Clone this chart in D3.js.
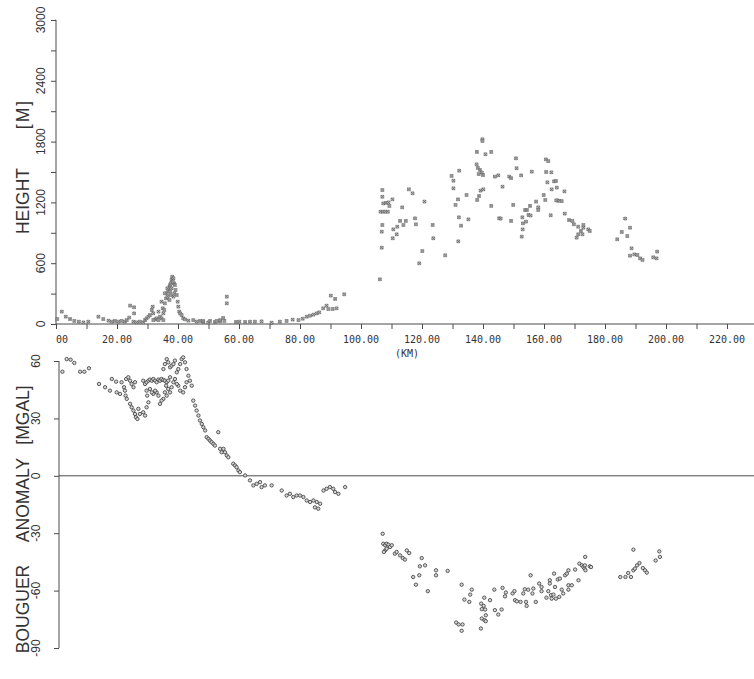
<!DOCTYPE html>
<html>
<head>
<meta charset="utf-8">
<script src="https://cdn.jsdelivr.net/npm/d3@7"></script>
<style>
  html, body { margin: 0; padding: 0; background: #fff; }
  svg { display: block; }
</style>
</head>
<body>
<svg id="chart" width="754" height="679"></svg>
<script>
// ---------- DATA ----------
// Topography profile: distance (km) and height (m)
const heightKm = [
  0.4,1.9,3.2,4.6,6.0,7.5,9.0,10.6,13.9,15.5,17.2,18.3,19.3,20.4,21.5,22.6,23.2,24.0,24.3,25.6,25.6,25.4,26.4,27.5,28.6,
  29.2,29.7,30.3,30.8,31.4,31.7,31.9,32.5,33.0,33.6,34.1,34.6,35.0,35.2,35.5,35.7,36.1,36.3,36.6,36.8,37.2,37.4,37.7,37.9,38.1,
  38.5,38.7,39.0,39.2,38.5,38.8,39.6,39.9,40.1,40.4,40.7,41.2,41.7,42.3,43.4,45.0,46.1,47.2,48.3,49.9,52.1,53.8,55.2,
  35.7,36.5,37.4,37.9,38.3,37.6,37.2,34.6,35.2,33.6,31.9,
  48.2,50.5,52.7,53.8,54.8,56.0,56.0,59.0,60.1,62.0,63.6,65.2,67.4,70.7,73.4,75.6,77.6,79.5,80.9,82.2,83.3,84.4,85.5,86.3,
  87.6,88.7,89.3,90.7,92.0,90.1,91.5,94.5,
  106.2,106.8,106.8,107.0,106.4,107.2,108.0,108.8,107.3,108.2,109.0,107.0,107.0,109.3,110.3,113.5,110.4,110.6,111.9,111.7,112.8,
  113.9,114.7,115.7,116.9,117.7,118.0,120.1,119.1,120.8,123.5,123.7,127.6,129.7,130.3,132.2,130.3,131.0,131.8,132.1,132.8,
  131.9,134.6,135.2,137.9,138.3,139.0,139.6,138.6,139.8,139.8,140.0,138.0,140.8,142.7,139.2,140.1,138.7,138.1,142.7,143.9,
  145.0,146.4,145.3,145.8,148.6,149.2,149.9,149.2,150.8,151.0,152.5,156.0,152.7,153.0,153.1,152.9,153.8,154.4,154.1,154.9,
  155.6,155.4,157.4,158.1,158.1,159.9,160.4,160.6,161.4,160.7,162.4,161.1,163.3,163.9,162.5,164.2,162.2,164.4,166.7,164.0,
  165.0,165.8,166.8,168.2,169.3,169.8,171.2,172.9,172.9,172.1,174.5,175.0,172.6,171.2,170.7,
  186.6,188.2,185.5,187.3,184.0,188.7,188.2,189.6,190.6,191.5,192.3,195.8,196.9,197.1
];
const heightM = [
  49,122,72,49,30,23,16,23,72,49,33,23,30,23,30,23,39,63,181,165,105,23,16,23,16,
  39,56,72,89,138,171,105,46,56,122,72,220,155,105,138,204,253,303,270,336,368,385,401,434,467,
  451,401,385,336,270,303,286,220,171,122,105,89,56,46,33,39,23,30,20,16,20,26,30,
  303,352,319,352,418,286,237,56,39,39,39,
  30,30,30,39,59,270,204,20,23,20,23,23,26,13,23,30,43,39,52,72,82,92,105,115,
  155,181,148,148,155,280,247,293,
  441,753,911,977,1108,1108,1108,1108,1190,1195,1200,1256,1322,1165,1230,1151,846,934,960,885,1017,
  977,1017,1329,1290,1043,984,720,599,1208,977,846,678,1461,1414,1513,1339,1175,1230,1053,970,
  816,1273,1033,1576,1540,1520,1495,1480,1823,1806,1470,1698,1675,1698,1316,1329,1263,1224,1165,1454,
  1467,1355,1043,1040,1454,1440,1175,1017,1635,1537,1467,1503,862,934,993,1053,1125,1125,1010,1076,
  1070,1165,1208,1151,1125,1273,1224,1625,1608,1500,1497,1398,1408,1411,1329,1346,1073,1218,1309,1220,
  1216,1213,1089,1026,1017,984,960,977,950,918,934,918,885,885,852,
  1040,950,908,868,836,747,674,687,681,648,632,658,648,714
];

// Bouguer anomaly profile: distance (km) and anomaly (mGal)
const bouguerKm = [
  2.1,3.5,4.8,6.0,7.9,9.3,10.8,14.1,16.1,17.7,18.3,19.7,19.9,21.0,21.5,22.3,22.6,22.8,23.2,23.0,23.7,24.3,24.8,25.4,25.9,
  24.3,24.8,25.4,25.9,26.2,26.7,27.0,27.5,28.6,29.2,29.7,30.3,29.9,29.7,28.6,29.2,29.7,30.3,30.8,31.4,31.9,32.5,33.0,33.6,
  34.1,34.6,35.2,35.7,36.3,36.8,37.4,36.8,36.3,35.2,34.6,34.1,33.6,33.0,32.5,31.9,31.4,30.8,35.7,36.1,35.2,35.7,36.3,36.8,
  37.4,37.9,38.5,39.0,39.6,40.1,40.7,41.2,41.7,42.3,42.8,43.4,43.9,44.5,42.8,42.3,41.7,40.7,40.1,39.6,39.0,38.5,37.9,37.4,
  45.0,45.6,46.1,46.7,47.2,47.8,48.3,48.9,49.4,50.0,50.5,51.0,51.6,52.1,53.2,53.8,54.3,54.9,55.4,56.0,56.5,58.1,58.7,59.2,
  59.8,60.3,62.0,63.6,64.7,65.8,66.9,67.4,68.5,70.7,74.0,75.6,76.7,77.8,78.9,80.0,81.1,82.2,83.3,84.4,85.5,86.6,84.9,86.0,
  87.7,88.7,89.8,90.9,91.5,92.6,94.8,
  107.1,107.3,107.9,108.4,109.0,109.5,110.1,107.9,108.4,107.5,111.1,111.7,112.8,113.7,114.4,115.0,115.8,119.9,119.3,121.0,
  117.1,119.1,118.0,121.9,124.6,124.6,128.4,133.0,133.9,135.5,136.3,135.8,131.2,132.0,133.3,133.0,139.4,140.2,140.4,140.7,
  139.6,140.9,139.6,140.5,140.9,139.3,142.3,143.7,143.9,145.0,146.1,146.4,147.2,147.5,149.7,150.3,150.5,151.1,152.3,153.2,
  153.7,154.1,154.3,154.8,155.6,156.2,156.5,157.3,158.4,159.2,159.2,160.8,161.4,161.9,161.9,162.3,162.5,163.1,163.3,163.6,
  163.9,164.5,165.2,165.0,165.8,166.3,166.9,167.5,168.0,168.0,168.0,169.1,170.2,171.3,171.6,172.4,172.9,173.3,173.6,173.4,
  173.5,175.0,175.4,185.0,186.7,188.5,187.6,189.3,189.8,190.5,191.3,189.3,192.4,193.1,193.7,196.6,197.8,198.0
];
const bouguerMgal = [
  54.4,61.0,60.7,59.0,54.4,54.4,56.2,48.0,46.3,44.5,50.6,49.2,43.6,42.8,48.9,46.3,44.5,41.9,40.2,50.6,51.5,49.7,48.0,46.3,48.9,
  37.6,35.8,34.1,32.3,30.6,29.7,35.0,32.3,33.2,31.5,35.8,38.4,41.9,44.5,49.7,48.0,48.9,49.7,50.3,49.7,50.6,49.7,48.9,50.3,
  49.7,50.6,50.1,49.7,48.9,49.7,51.5,45.4,41.9,40.2,39.3,37.6,41.9,43.6,44.5,42.8,43.6,45.4,43.6,47.1,55.8,58.4,61.0,59.3,
  56.7,57.6,58.4,60.2,54.1,55.8,58.4,61.0,61.9,59.3,55.8,52.3,49.7,47.1,48.9,46.3,43.6,44.5,47.1,48.0,50.6,48.9,46.3,43.6,
  39.3,36.7,34.1,31.5,28.9,27.1,25.4,23.7,20.2,19.3,18.4,17.6,16.7,15.8,22.8,14.1,12.3,14.1,12.3,10.6,9.7,6.3,5.4,4.5,
  2.8,1.9,0.2,-2.4,-5.0,-4.2,-3.3,-5.9,-5.0,-5.0,-7.7,-10.3,-9.4,-11.1,-10.3,-10.3,-11.1,-12.9,-13.7,-12.9,-13.7,-14.6,-16.5,-17.2,
  -7.7,-6.8,-5.9,-6.8,-8.5,-9.4,-5.9,
  -30.3,-35.5,-36.3,-35.5,-36.0,-37.2,-36.3,-39.0,-38.1,-39.8,-40.7,-39.8,-41.6,-43.0,-43.8,-39.0,-40.4,-43.0,-47.3,-46.8,
  -52.9,-52.0,-56.9,-60.3,-49.4,-52.0,-49.7,-56.9,-64.7,-65.9,-59.5,-62.1,-76.7,-77.7,-77.7,-81.0,-66.8,-68.0,-63.7,-69.9,
  -69.7,-72.9,-74.6,-75.5,-76.0,-79.8,-65.0,-59.5,-70.2,-72.5,-69.9,-58.6,-63.0,-61.0,-61.5,-60.3,-65.0,-65.6,-65.9,-61.5,
  -59.3,-65.9,-68.0,-59.5,-52.0,-61.5,-58.9,-65.9,-56.3,-58.1,-60.3,-63.7,-60.3,-54.6,-56.3,-62.4,-64.2,-62.1,-51.1,-58.1,
  -64.2,-54.2,-53.7,-63.3,-59.5,-61.5,-52.0,-51.1,-49.4,-57.2,-59.5,-57.2,-49.0,-54.6,-45.9,-46.8,-47.7,-48.5,-49.4,-46.8,
  -42.4,-47.3,-47.7,-52.9,-52.9,-52.9,-50.8,-49.4,-48.5,-46.8,-45.6,-38.6,-48.2,-49.4,-50.6,-44.3,-39.5,-42.4
];

// Tick values / labels
const xTicks = [0,10,20,30,40,50,60,70,80,90,100,110,120,130,140,150,160,170,180,190,200,210,220];
const xLabelTicks = [0,20,40,60,80,100,120,140,160,180,200,220];
const heightTicks = [0,300,600,900,1200,1500,1800,2100,2400,2700,3000];
const heightLabelTicks = [0,600,1200,1800,2400,3000];
const bouguerTicks = [60,30,0,-30,-60,-90];

// ---------- DRAW ----------
const svg = d3.select("#chart");
const axisColor = "#4a4a4a";
const sansFont = "'Liberation Sans', Arial, sans-serif";
const monoFont = "'DejaVu Sans Mono', monospace";

const x = d3.scaleLinear().domain([0, 229.5]).range([56, 756]);
const yH = d3.scaleLinear().domain([0, 3000]).range([324, 20]);
const yB = d3.scaleLinear().domain([-90, 60]).range([648, 361]);

// ---- Top panel: height ----
const topAxisY = svg.append("g").attr("transform", "translate(56,0)");
topAxisY.call(d3.axisLeft(yH).tickValues(heightTicks).tickSize(5).tickFormat(""));
topAxisY.select(".domain").attr("stroke", axisColor).attr("d", `M-0.5,${yH(3000)}H0V${yH(0)}`);
topAxisY.selectAll(".tick line").attr("stroke", axisColor);

svg.append("g").selectAll("text").data(heightLabelTicks).join("text")
  .attr("transform", d => `translate(45,${yH(d)}) rotate(-90)`)
  .attr("text-anchor", "middle")
  .attr("font-family", sansFont).attr("font-size", 12).attr("fill", "#333")
  .text(d => d);

const topAxisX = svg.append("g").attr("transform", "translate(0,324)");
topAxisX.call(d3.axisBottom(x).tickValues(xTicks).tickSize(5).tickFormat(""));
topAxisX.select(".domain").attr("stroke", axisColor).attr("d", `M56,0H754`);
topAxisX.selectAll(".tick line").attr("stroke", axisColor);

svg.append("clipPath").attr("id", "labclip").append("rect")
  .attr("x", 54).attr("y", 325).attr("width", 700).attr("height", 30);
svg.append("g").attr("clip-path", "url(#labclip)")
  .selectAll("text").data(xLabelTicks).join("text")
  .attr("x", d => x(d)).attr("y", 343)
  .attr("text-anchor", "middle")
  .attr("font-family", monoFont).attr("font-size", 10).attr("fill", "#333")
  .text(d => d.toFixed(2));

svg.append("text").attr("x", 407).attr("y", 357).attr("text-anchor", "middle")
  .attr("font-family", monoFont).attr("font-size", 10).attr("fill", "#333")
  .text("(KM)");

svg.append("text").attr("transform", "translate(29,201) rotate(-90)")
  .attr("text-anchor", "middle").attr("font-family", sansFont).attr("font-size", 17.5).attr("fill", "#333")
  .text("HEIGHT");
svg.append("text").attr("transform", "translate(29,114) rotate(-90)")
  .attr("text-anchor", "middle").attr("font-family", sansFont).attr("font-size", 17.5).attr("fill", "#333")
  .attr("letter-spacing", 2)
  .text("[M]");

const heightPts = heightKm.map((k, i) => ({k, v: heightM[i]}));
const hg = svg.append("g");
const hs = 1.4;
hg.selectAll("path").data(heightPts).join("path")
  .attr("d", d => {
    const cx = x(d.k), cy = yH(d.v);
    return `M${cx-hs},${cy-hs}h${2*hs}v${2*hs}h${-2*hs}Z M${cx-hs},${cy-hs}L${cx+hs},${cy+hs} M${cx+hs},${cy-hs}L${cx-hs},${cy+hs}`;
  })
  .attr("fill", "#e4e4e4").attr("stroke", "#555").attr("stroke-width", 0.6);

// ---- Bottom panel: Bouguer anomaly ----
const botAxisY = svg.append("g").attr("transform", "translate(59,0)");
botAxisY.call(d3.axisLeft(yB).tickValues(bouguerTicks).tickSize(5).tickFormat(""));
botAxisY.select(".domain").attr("stroke", axisColor).attr("d", `M0,${yB(60)}V${yB(-90)}`);
botAxisY.selectAll(".tick line").attr("stroke", axisColor);

svg.append("g").selectAll("text").data(bouguerTicks).join("text")
  .attr("transform", d => `translate(40,${yB(d)}) rotate(-90)`)
  .attr("text-anchor", "middle")
  .attr("font-family", sansFont).attr("font-size", 12).attr("fill", "#333")
  .text(d => d);

svg.append("line").attr("x1", 59).attr("x2", 754).attr("y1", yB(0)).attr("y2", yB(0))
  .attr("stroke", axisColor).attr("stroke-width", 1);

[["BOUGUER", 609], ["ANOMALY", 500], ["[MGAL]", 415]].forEach(([t, cy]) => {
  svg.append("text").attr("transform", `translate(29,${cy}) rotate(-90)`)
    .attr("text-anchor", "middle").attr("font-family", sansFont).attr("font-size", 17.5).attr("fill", "#333")
    .text(t);
});

const bPts = bouguerKm.map((k, i) => ({k, v: bouguerMgal[i]}));
svg.append("g").selectAll("circle").data(bPts).join("circle")
  .attr("cx", d => x(d.k)).attr("cy", d => yB(d.v)).attr("r", 1.7)
  .attr("fill", "#d4d4d4").attr("stroke", "#3a3a3a").attr("stroke-width", 0.8);
</script>
</body>
</html>
